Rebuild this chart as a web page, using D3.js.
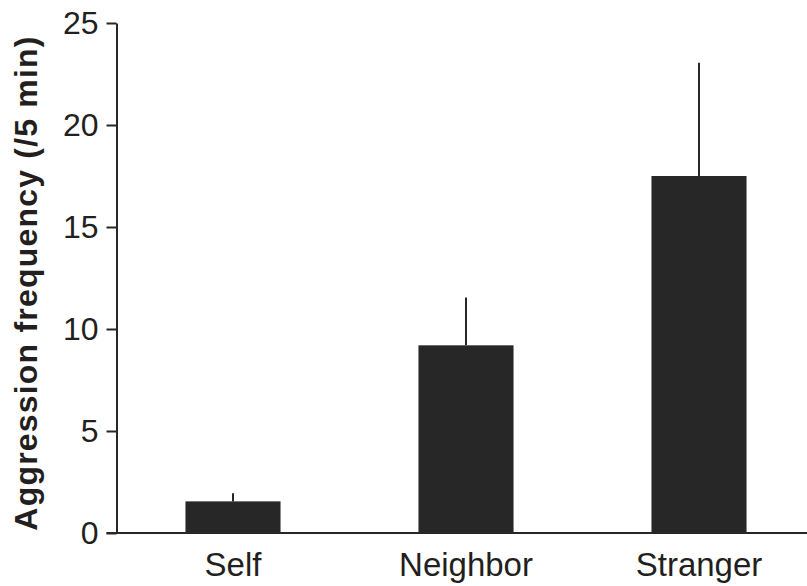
<!DOCTYPE html>
<html>
<head>
<meta charset="utf-8">
<script src="https://cdn.jsdelivr.net/npm/d3@7"></script>
<style>
    html, body { margin: 0; padding: 0; background: #fff; }
    svg { display: block; }
    text { font-family: "Liberation Sans", Arial, sans-serif; fill: #231f20; }
</style>
</head>
<body>
<svg class="graph" width="807" height="586"></svg>
<script>
(() => {
    'use strict';

    // data
    const groups = ['Self', 'Neighbor', 'Stranger'];
    const means = [1.55, 9.2, 17.5];
    const upper = [1.95, 11.55, 23.05];
    const yTicks = [0, 5, 10, 15, 20, 25];

    const ink = '#282728',
          x0 = 116.5,
          yBase = 533,
          yTop = 23,
          svg = d3.select('.graph');

    const xScale = d3.scaleBand()
        .domain(groups)
        .range([x0, x0 + 3 * 233])
        .paddingInner(0.592)
        .paddingOuter(0.296);

    const yScale = d3.scaleLinear()
        .domain([0, 25])
        .range([yBase, yTop]);

    // error bars (upper only), drawn behind the bars
    svg.selectAll('line.err')
        .data(groups)
        .enter()
        .append('line')
        .attr('class', 'err')
        .attr('x1', d => xScale(d) + xScale.bandwidth() / 2)
        .attr('x2', d => xScale(d) + xScale.bandwidth() / 2)
        .attr('y1', (d, i) => yScale(means[i]))
        .attr('y2', (d, i) => yScale(upper[i]))
        .attr('stroke', ink)
        .attr('stroke-width', 2);

    svg.selectAll('rect')
        .data(groups)
        .enter()
        .append('rect')
        .attr('fill', ink)
        .attr('x', d => xScale(d))
        .attr('width', xScale.bandwidth())
        .attr('y', (d, i) => yScale(means[i]))
        .attr('height', (d, i) => yBase - yScale(means[i]));

    // y axis
    const yAxis = d3.axisLeft(yScale)
        .tickValues(yTicks)
        .tickSize(10)
        .tickPadding(8)
        .tickSizeOuter(0);

    const gy = svg.append('g')
        .attr('transform', `translate(${x0}, 0)`)
        .call(yAxis);
    gy.selectAll('path, line').attr('stroke', ink).attr('stroke-width', 2);
    gy.selectAll('text')
        .attr('font-size', '32px')
        .attr('font-family', '"Liberation Sans", Arial, sans-serif')
        .attr('fill', '#231f20');

    // x axis baseline, no ticks
    const xAxis = d3.axisBottom(xScale)
        .tickSize(0)
        .tickPadding(20);

    const gx = svg.append('g')
        .attr('transform', `translate(0, ${yBase})`)
        .call(xAxis);
    gx.select('path').remove();
    gx.append('line')
        .attr('x1', x0 - 10)
        .attr('x2', 807)
        .attr('stroke', ink)
        .attr('stroke-width', 2);
    gx.selectAll('text')
        .attr('font-size', '33px')
        .attr('font-family', '"Liberation Sans", Arial, sans-serif')
        .attr('fill', '#231f20');

    svg.append('text')
        .attr('transform', 'translate(37, 283) rotate(-90)')
        .attr('text-anchor', 'middle')
        .attr('font-size', '32px')
        .attr('font-weight', 'bold')
        .attr('letter-spacing', '1.2px')
        .text('Aggression frequency (/5 min)');
})();
</script>
</body>
</html>
